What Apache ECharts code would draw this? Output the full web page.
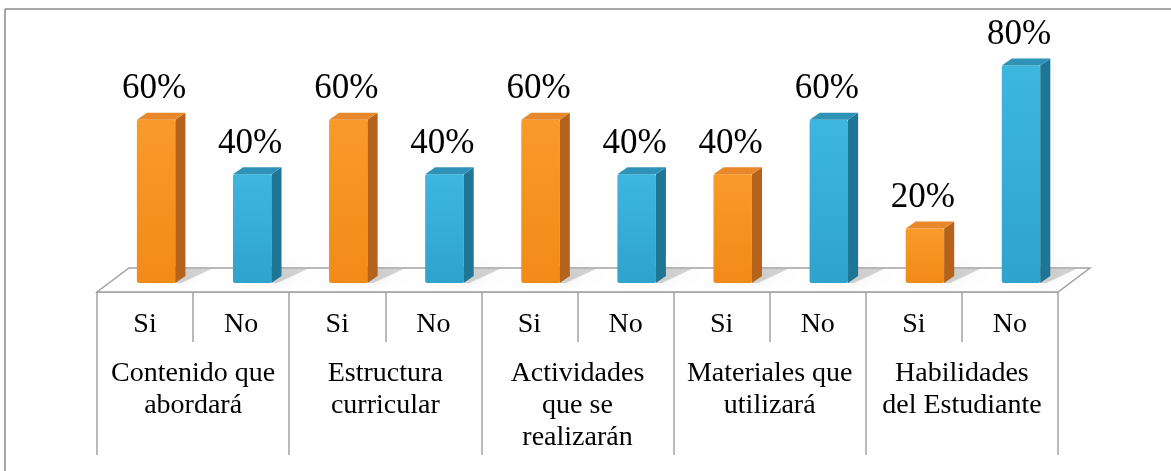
<!DOCTYPE html>
<html>
<head>
<meta charset="utf-8">
<script src="https://cdn.jsdelivr.net/npm/echarts@6/dist/echarts.min.js"></script>
<style>
html,body{margin:0;padding:0;background:#fff;}
#chart{width:1171px;height:471px;}
</style>
</head>
<body>
<div id="chart"></div>
<script>
// ---- data ----
const groups = ["Contenido que\nabordará", "Estructura\ncurricular", "Actividades\nque se\nrealizarán", "Materiales que\nutilizará", "Habilidades\ndel Estudiante"];
const answers = ["Si", "No"];
const siValues = [60, 60, 60, 40, 20];
const noValues = [40, 40, 40, 60, 80];

// ---- derived ----
const categories = [];
const barData = [];
groups.forEach((g, gi) => {
  categories.push(answers[0]);
  barData.push([gi * 2, siValues[gi], 0]);
  categories.push(answers[1]);
  barData.push([gi * 2 + 1, noValues[gi], 1]);
});

const palette = [
  { front: ['#F99A2A', '#F28A18'], side: '#B5621A', top: '#E8882A' },
  { front: ['#3DB7DE', '#2EA3CB'], side: '#1F7595', top: '#2F93B8' }
];

const FONT = "'Liberation Serif', 'Times New Roman', serif";
const GRID_LINE = '#a3a3a3';

function renderBar(params, api) {
  const i = api.value(0), v = api.value(1), s = api.value(2);
  const base = api.coord([i, 0]);
  const top = api.coord([i, v]);
  const bw = api.size([1, 0])[0];
  const fw = bw * 0.40;
  const cx = base[0] + bw * 0.115;
  const dx = bw * 0.105, dy = -7;
  const x0 = cx - fw / 2, x1 = cx + fw / 2;
  const yt = top[1], yb = base[1];
  const c = palette[s];
  return {
    type: 'group',
    children: [
      { // floor shadow
        type: 'polygon',
        shape: { points: [[x0 + 4, yb], [x1 + 6, yb], [x1 + dx + 26, yb + dy - 7], [x0 + dx + 14, yb + dy - 7]] },
        style: { fill: 'rgba(0,0,0,0.16)', shadowBlur: 12, shadowColor: 'rgba(0,0,0,0.35)' },
        silent: true
      },
      {
        type: 'rect',
        shape: { x: x0, y: yt, width: fw, height: yb - yt, r: 2 },
        style: {
          fill: new echarts.graphic.LinearGradient(0, 0, 0, 1, [
            { offset: 0, color: c.front[0] }, { offset: 1, color: c.front[1] }
          ])
        }
      },
      {
        type: 'polygon',
        shape: { points: [[x1, yt], [x1 + dx, yt + dy], [x1 + dx, yb + dy], [x1, yb]] },
        style: { fill: c.side }
      },
      {
        type: 'polygon',
        shape: { points: [[x0, yt], [x0 + dx, yt + dy], [x1 + dx, yt + dy], [x1, yt]] },
        style: { fill: c.top }
      },
      {
        type: 'text',
        style: {
          x: cx - 2, y: yt + dy - 6,
          text: v + '%',
          fill: '#000',
          font: '35px ' + FONT,
          align: 'center',
          verticalAlign: 'bottom'
        }
      }
    ]
  };
}

function renderFloor(params, api) {
  const cs = params.coordSys;
  const yf = cs.y + cs.height + 9;
  const ddx = 32, ddy = -24;
  return {
    type: 'polygon',
    shape: { points: [[cs.x, yf], [cs.x + cs.width, yf], [cs.x + cs.width + ddx, yf + ddy], [cs.x + ddx, yf + ddy]] },
    style: { fill: '#fff', stroke: GRID_LINE, lineWidth: 1.5 },
    silent: true
  };
}

const chart = echarts.init(document.getElementById('chart'), null, { renderer: 'canvas' });
chart.setOption({
  backgroundColor: '#fff',
  animation: false,
  graphic: [
    { type: 'line', shape: { x1: 5, y1: 9, x2: 1171, y2: 9 }, style: { stroke: '#8a8a8a', lineWidth: 1.5 } },
    { type: 'line', shape: { x1: 5, y1: 9, x2: 5, y2: 471 }, style: { stroke: '#8a8a8a', lineWidth: 1.5 } }
  ],
  grid: { left: 97, right: 113, top: 11, bottom: 188 },
  xAxis: [
    { type: 'category', data: categories, show: false },
    {
      type: 'category', data: categories, position: 'bottom', offset: 9,
      axisLine: { show: true, lineStyle: { color: GRID_LINE, width: 1.5 } },
      axisTick: { show: true, interval: 0, length: 50, lineStyle: { color: GRID_LINE, width: 1.5 } },
      axisLabel: { interval: 0, margin: 19, fontSize: 28, fontFamily: FONT, color: '#000' }
    },
    {
      type: 'category', data: groups, position: 'bottom', offset: 9,
      axisLine: { show: false },
      axisTick: { show: true, interval: 0, length: 163, lineStyle: { color: GRID_LINE, width: 1.5 } },
      axisLabel: { interval: 0, margin: 66, fontSize: 28, lineHeight: 32, fontFamily: FONT, color: '#000', align: 'center' }
    }
  ],
  yAxis: { type: 'value', min: 0, max: 100, show: false },
  series: [
    { type: 'custom', renderItem: renderFloor, data: [[0, 0]], z: 1, silent: true },
    { type: 'custom', renderItem: renderBar, data: barData, z: 5, encode: { x: 0, y: 1 } }
  ]
});
</script>
</body>
</html>
